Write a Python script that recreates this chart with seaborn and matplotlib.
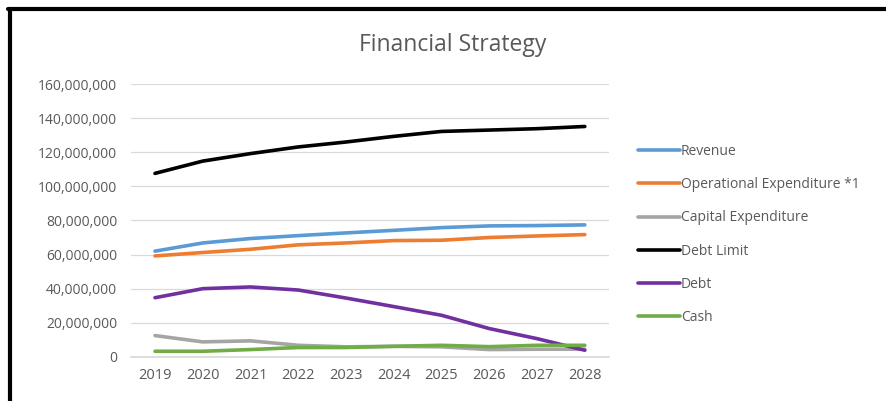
import pandas as pd
import seaborn as sns
import matplotlib.pyplot as plt
from matplotlib.lines import Line2D
from matplotlib.ticker import FuncFormatter

# values (millions)
years = ["2019", "2020", "2021", "2022", "2023", "2024", "2025", "2026", "2027", "2028"]
revenue = [62.0, 66.8, 69.4, 71.1, 72.7, 74.2, 75.8, 76.8, 77.0, 77.4]
opex = [59.2, 61.2, 63.1, 65.7, 66.8, 68.2, 68.4, 70.0, 70.9, 71.7]
capex = [12.5, 8.8, 9.4, 6.8, 5.9, 6.2, 5.9, 4.3, 4.5, 4.5]
debt_limit = [107.6, 114.8, 119.2, 123.1, 126.0, 129.3, 132.2, 133.0, 133.8, 135.1]
debt = [34.7, 40.0, 41.0, 39.2, 34.5, 29.5, 24.4, 16.6, 10.7, 3.9]
cash = [3.3, 3.3, 4.3, 5.5, 5.5, 6.2, 6.8, 6.0, 6.8, 6.8]

series = {
    "Revenue": revenue,
    "Operational Expenditure *1": opex,
    "Capital Expenditure": capex,
    "Debt Limit": debt_limit,
    "Debt": debt,
    "Cash": cash,
}
colors = ["#5B9BD5", "#ED7D31", "#A5A5A5", "#000000", "#7030A0", "#70AD47"]

rows = []
for name, vals in series.items():
    for i, v in enumerate(vals):
        rows.append({"x": i, "value": v * 1e6, "series": name})
df = pd.DataFrame(rows)

sns.set_theme(style="white")
plt.rcParams['font.family'] = ['Open Sans', 'DejaVu Sans']

fig = plt.figure(figsize=(8.86, 4.01), dpi=100)
ax = fig.add_axes([0.148, 0.110, 0.539, 0.6805])

sns.lineplot(data=df, x="x", y="value", hue="series", palette=colors,
             linewidth=2.6, ax=ax, legend=False, solid_capstyle="round")

ax.set_xlim(-0.5, 9.5)
ax.set_ylim(0, 160e6)
ax.set_yticks(range(0, 160000001, 20000000))
ax.yaxis.set_major_formatter(FuncFormatter(lambda v, p: f"{int(v):,}"))
ax.set_xticks(range(len(years)))
ax.set_xticklabels(years)
ax.tick_params(axis="y", labelsize=10, colors="#595959", length=0, pad=10)
ax.tick_params(axis="x", labelsize=10.5, colors="#595959", length=0, pad=8)
ax.yaxis.grid(True, color="#D9D9D9", linewidth=0.9)
ax.set_axisbelow(True)
for s in ["top", "right", "left"]:
    ax.spines[s].set_visible(False)
ax.spines["bottom"].set_color("#D9D9D9")
ax.set_xlabel("")
ax.set_ylabel("")

fig.text(0.511, 0.888, "Financial Strategy", ha="center", va="center",
         fontsize=16.5, color="#595959")

handles = [Line2D([0], [0], color=c, linewidth=2.6) for c in colors]
fig.legend(handles, list(series.keys()), loc="upper left",
           bbox_to_anchor=(0.706, 0.672), frameon=False, fontsize=10,
           handlelength=3.0, handletextpad=0.1, labelspacing=1.31,
           labelcolor="#595959")

# frame lines at top and left, as in the cropped screenshot
fig.add_artist(Line2D([0.009, 1.0], [0.978, 0.978], color="black", linewidth=3,
                      transform=fig.transFigure))
fig.add_artist(Line2D([0.0113, 0.0113], [0.0, 0.978], color="black", linewidth=3,
                      transform=fig.transFigure))

fig.savefig("out.png", dpi=100)
